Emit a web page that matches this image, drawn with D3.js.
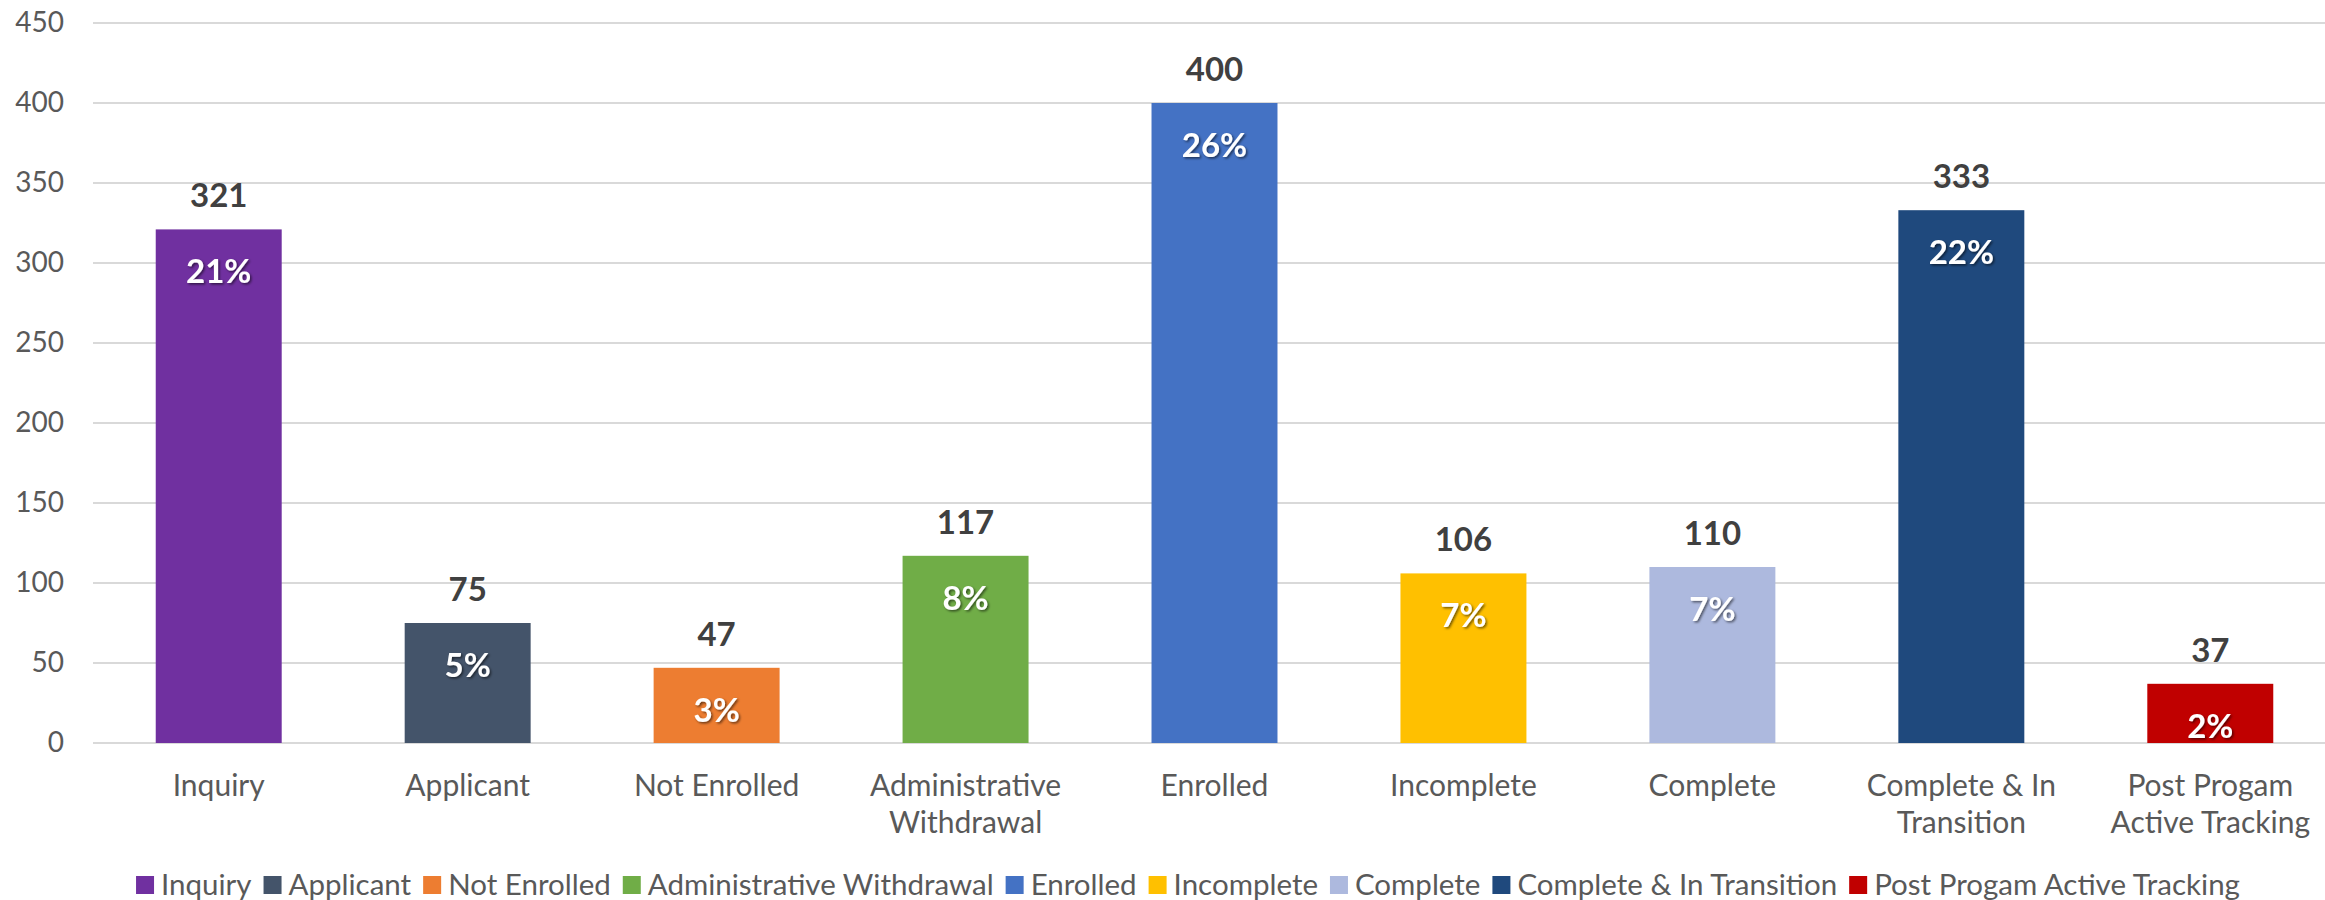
<!DOCTYPE html>
<html>
<head>
<meta charset="utf-8">
<script src="https://cdn.jsdelivr.net/npm/d3@7"></script>
<style>
  body { margin: 0; background: #fff; }
  text { font-family: Lato, "Open Sans", sans-serif; }
</style>
</head>
<body>
<div id="chart"></div>
<script>
'use strict';

// chart data
const categories = [
  "Inquiry", "Applicant", "Not Enrolled", "Administrative Withdrawal", "Enrolled",
  "Incomplete", "Complete", "Complete & In Transition", "Post Progam Active Tracking"
];
const values = [321, 75, 47, 117, 400, 106, 110, 333, 37];
const percents = ["21%", "5%", "3%", "8%", "26%", "7%", "7%", "22%", "2%"];
// how the axis labels break onto two lines
const axisLabelLines = [
  ["Inquiry"], ["Applicant"], ["Not Enrolled"], ["Administrative", "Withdrawal"], ["Enrolled"],
  ["Incomplete"], ["Complete"], ["Complete & In", "Transition"], ["Post Progam", "Active Tracking"]
];
const yTicks = [0, 50, 100, 150, 200, 250, 300, 350, 400, 450];

const barColors = [
  "#7030A0", "#44546A", "#ED7D31", "#70AD47", "#4472C4",
  "#FFC000", "#ADB9DE", "#1F497D", "#C00000"
];

const W = 2325, H = 900;
const margin = {top: 23, right: 0, bottom: 157, left: 93};
const width = W - margin.left - margin.right,
    height = H - margin.top - margin.bottom;

const svg = d3.select("#chart")
  .append("svg")
    .attr("width", W)
    .attr("height", H);

// soft shadow for the labels inside the bars
const defs = svg.append("defs");
defs.append("filter")
    .attr("id", "shadow")
    .attr("x", "-20%").attr("y", "-20%")
    .attr("width", "140%").attr("height", "140%")
  .append("feDropShadow")
    .attr("dx", 1.5).attr("dy", 1.5)
    .attr("stdDeviation", 1.2)
    .attr("flood-color", "#000")
    .attr("flood-opacity", 0.55);

const g = svg.append("g")
    .attr("transform", `translate(${margin.left}, ${margin.top})`);

// band scale runs a bit past the right edge, like the original
const x = d3.scaleBand()
  .domain(categories)
  .range([0, 2243])
  .paddingInner(0.494)
  .paddingOuter(0.252);

const y = d3.scaleLinear()
  .domain([0, 450])
  .range([height, 0]);

// gridlines
g.append("g")
  .selectAll("line")
  .data(yTicks)
  .enter()
  .append("line")
    .attr("x1", 0)
    .attr("x2", width)
    .attr("y1", d => y(d))
    .attr("y2", d => y(d))
    .attr("stroke", "#D9D9D9")
    .attr("stroke-width", 2);

// y axis labels
const yAxis = g.append("g")
  .call(d3.axisLeft(y).tickValues(yTicks).tickSize(0).tickPadding(29));
yAxis.select(".domain").remove();
yAxis.selectAll("text")
  .attr("fill", "#595959")
  .style("font-size", "28px")
  .style("font-family", "Lato, 'Open Sans', sans-serif");

// bars
g.selectAll(".bar")
  .data(categories)
  .enter()
  .append("rect")
    .attr("class", "bar")
    .attr("x", d => x(d))
    .attr("y", (d, i) => y(values[i]))
    .attr("width", x.bandwidth())
    .attr("height", (d, i) => y(0) - y(values[i]))
    .attr("fill", (d, i) => barColors[i]);

// value labels above bars
g.selectAll(".val")
  .data(categories)
  .enter()
  .append("text")
    .attr("class", "val")
    .attr("x", d => x(d) + x.bandwidth() / 2)
    .attr("y", (d, i) => y(values[i]) - 22)
    .attr("text-anchor", "middle")
    .attr("fill", "#404040")
    .style("font-size", "33px")
    .style("font-weight", "bold")
    .text((d, i) => values[i]);

// percent labels inside bars
g.selectAll(".pct")
  .data(categories)
  .enter()
  .append("text")
    .attr("class", "pct")
    .attr("x", d => x(d) + x.bandwidth() / 2)
    .attr("y", (d, i) => y(values[i]) + 54)
    .attr("text-anchor", "middle")
    .attr("fill", "#fff")
    .attr("filter", "url(#shadow)")
    .style("font-size", "33px")
    .style("font-weight", "bold")
    .text((d, i) => percents[i]);

// category labels under the axis
const catLabels = g.selectAll(".cat")
  .data(categories)
  .enter()
  .append("text")
    .attr("class", "cat")
    .attr("text-anchor", "middle")
    .attr("fill", "#595959")
    .style("font-size", "30px");
catLabels.each(function(d, i) {
  const t = d3.select(this);
  axisLabelLines[i].forEach((line, j) => {
    t.append("tspan")
      .attr("x", x(d) + x.bandwidth() / 2)
      .attr("y", height + 53 + j * 37)
      .text(line);
  });
});

// legend, centred under the plot
const legend = svg.append("g").attr("class", "legend");
const legendY = 885;
const box = 18, boxGap = 7, itemGap = 12;
const items = legend.selectAll(".item")
  .data(categories)
  .enter()
  .append("g")
    .attr("class", "item");
items.append("rect")
  .attr("width", box)
  .attr("height", box)
  .attr("y", legendY - box / 2)
  .attr("fill", (d, i) => barColors[i]);
items.append("text")
  .attr("x", box + boxGap)
  .attr("y", legendY + 10)
  .attr("fill", "#595959")
  .style("font-size", "29.5px")
  .text(d => d);

let offset = 0;
items.each(function() {
  const item = d3.select(this);
  item.attr("transform", `translate(${offset},0)`);
  const w = item.select("text").node().getComputedTextLength();
  offset += box + boxGap + w + itemGap;
});
const total = offset - itemGap;
legend.attr("transform", `translate(${1188 - total / 2},0)`);
</script>
</body>
</html>
